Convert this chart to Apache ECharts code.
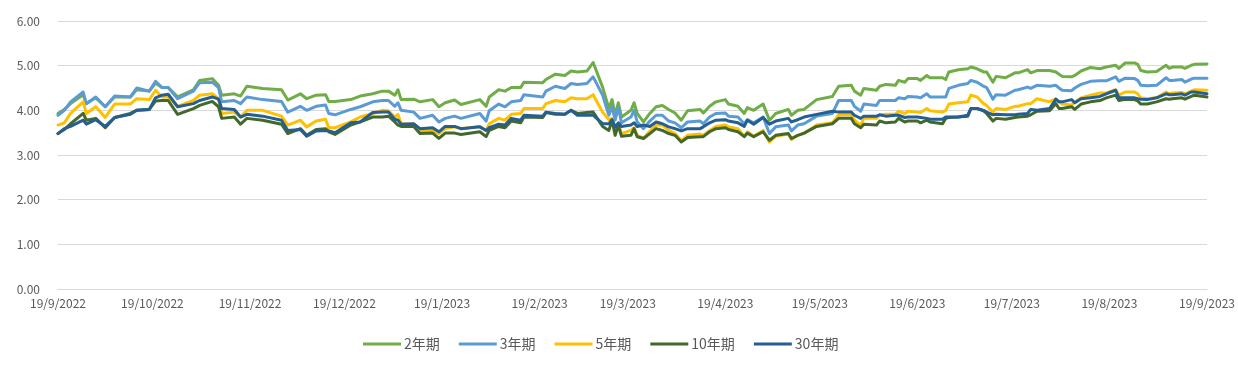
<!DOCTYPE html>
<html>
<head>
<meta charset="utf-8">
<script src="https://cdn.jsdelivr.net/npm/echarts@6/dist/echarts.min.js"></script>
<style>
html,body{margin:0;padding:0;background:#fff;}
#chart{width:1238px;height:369px;}
</style>
</head>
<body>
<div id="chart"></div>
<script>
// Days since 19/9/2022 at which values were read
const sampleDay = [
  0,2,4,8,9,12,15,18,23,25,29,31,33,35,38,43,45,49,51,52,56,58,60,65,71,73,77,79,82,85,86,88,93,96,100,103,105,107,108,
  109,113,115,119,121,123,126,128,134,136,137,140,142,144,147,148,154,155,158,161,163,165,168,170,173,175,176,177,178,179,182,183,184,186,188,190,192,194,196,198,200,204,205,207,209,212,213,216,218,219,221,224,226,228,232,233,235,237,
  241,246,248,252,253,255,256,260,261,263,266,267,269,270,273,274,276,277,281,282,283,286,289,290,292,294,295,297,298,301,304,305,308,309,311,315,317,318,319,322,323,325,328,331,333,336,337,339,342,343,344,346,349,352,353,354,357,358,360,361,365
];

const seriesNames = ['2年期', '3年期', '5年期', '10年期', '30年期'];

const y2 = [
  3.93,4.02,4.15,4.35,4.15,4.28,4.08,4.30,4.30,4.46,4.43,4.61,4.51,4.51,4.30,4.46,4.67,4.71,4.56,4.34,4.37,4.32,4.54,4.49,4.46,4.23,4.37,4.26,4.34,4.35,4.20,4.20,4.24,4.32,4.37,4.43,4.43,4.34,4.46,
  4.24,4.25,4.19,4.24,4.08,4.17,4.23,4.13,4.24,4.09,4.30,4.46,4.43,4.51,4.51,4.63,4.62,4.69,4.81,4.78,4.88,4.86,4.88,5.07,4.52,4.04,4.24,3.89,4.17,3.85,4.00,4.17,3.93,3.74,3.93,4.08,4.11,4.02,3.94,3.78,3.99,4.02,3.94,4.09,4.19,4.24,4.14,4.09,3.93,4.06,4.00,4.14,3.78,3.93,4.02,3.89,4.00,4.02,
  4.24,4.31,4.54,4.56,4.43,4.34,4.49,4.45,4.54,4.58,4.56,4.67,4.63,4.71,4.71,4.67,4.78,4.73,4.73,4.69,4.86,4.91,4.93,4.97,4.93,4.86,4.86,4.63,4.76,4.73,4.84,4.84,4.91,4.84,4.89,4.89,4.86,4.81,4.76,4.75,4.78,4.88,4.96,4.93,4.97,5.01,4.94,5.06,5.06,5.03,4.89,4.86,4.87,5.01,4.94,4.97,4.97,4.94,5.01,5.03,5.04
];
const y3 = [
  3.89,4.00,4.19,4.41,4.15,4.30,4.08,4.32,4.30,4.50,4.43,4.65,4.51,4.51,4.26,4.43,4.62,4.63,4.51,4.19,4.22,4.15,4.30,4.24,4.20,3.96,4.09,4.00,4.09,4.12,3.93,3.90,4.02,4.08,4.19,4.22,4.22,4.09,4.17,
  4.00,3.96,3.82,3.89,3.74,3.82,3.87,3.82,3.93,3.76,3.99,4.14,4.08,4.19,4.22,4.35,4.30,4.43,4.54,4.49,4.60,4.58,4.60,4.75,4.34,3.89,4.08,3.78,4.08,3.72,3.85,4.00,3.74,3.59,3.76,3.89,3.89,3.76,3.72,3.61,3.74,3.76,3.70,3.85,3.93,3.94,3.87,3.85,3.70,3.79,3.72,3.85,3.48,3.63,3.67,3.54,3.67,3.70,
  3.87,3.93,4.22,4.22,4.09,3.98,4.14,4.11,4.22,4.22,4.22,4.28,4.26,4.31,4.30,4.28,4.37,4.30,4.30,4.30,4.49,4.56,4.60,4.67,4.63,4.54,4.51,4.25,4.35,4.34,4.45,4.46,4.52,4.49,4.56,4.54,4.56,4.50,4.45,4.44,4.50,4.58,4.65,4.66,4.66,4.75,4.65,4.72,4.71,4.67,4.56,4.55,4.56,4.73,4.67,4.67,4.69,4.63,4.70,4.72,4.72
];
const y5 = [
  3.67,3.72,3.93,4.19,3.93,4.08,3.84,4.14,4.14,4.26,4.24,4.45,4.30,4.30,4.09,4.22,4.34,4.37,4.26,3.93,3.96,3.85,4.00,4.00,3.87,3.67,3.78,3.63,3.76,3.80,3.61,3.61,3.74,3.85,3.93,4.00,3.99,3.85,3.91,
  3.70,3.69,3.55,3.55,3.48,3.59,3.63,3.59,3.64,3.55,3.70,3.82,3.78,3.91,3.93,4.04,4.04,4.15,4.22,4.19,4.28,4.26,4.26,4.35,3.96,3.79,3.82,3.59,3.70,3.48,3.55,3.61,3.44,3.38,3.53,3.67,3.67,3.55,3.48,3.32,3.44,3.47,3.44,3.55,3.64,3.67,3.63,3.59,3.42,3.52,3.42,3.55,3.29,3.42,3.47,3.35,3.44,3.48,
  3.67,3.72,3.90,3.90,3.78,3.67,3.82,3.82,3.89,3.91,3.91,3.98,3.93,3.98,3.96,3.95,4.04,3.99,3.96,4.00,4.14,4.17,4.19,4.34,4.30,4.15,4.11,3.96,4.04,4.02,4.09,4.09,4.15,4.15,4.26,4.19,4.26,4.19,4.14,4.12,4.18,4.28,4.34,4.39,4.39,4.46,4.34,4.41,4.41,4.37,4.28,4.26,4.28,4.41,4.37,4.39,4.40,4.37,4.43,4.46,4.45
];
const y10 = [
  3.48,3.57,3.70,3.93,3.78,3.82,3.61,3.84,3.93,4.00,4.02,4.21,4.22,4.22,3.91,4.04,4.11,4.20,4.08,3.82,3.85,3.69,3.82,3.78,3.69,3.48,3.59,3.44,3.57,3.59,3.52,3.46,3.67,3.74,3.85,3.85,3.87,3.74,3.67,
  3.64,3.64,3.48,3.49,3.37,3.49,3.49,3.46,3.52,3.41,3.55,3.64,3.61,3.76,3.72,3.85,3.84,3.95,3.91,3.91,4.00,3.93,3.95,3.96,3.64,3.55,3.78,3.44,3.67,3.42,3.44,3.59,3.41,3.37,3.48,3.59,3.55,3.48,3.44,3.29,3.39,3.41,3.41,3.52,3.59,3.61,3.57,3.52,3.41,3.49,3.41,3.52,3.33,3.44,3.48,3.37,3.44,3.49,
  3.64,3.70,3.82,3.82,3.70,3.61,3.69,3.67,3.76,3.72,3.74,3.82,3.74,3.76,3.76,3.72,3.78,3.74,3.70,3.82,3.84,3.85,3.87,4.04,4.04,3.99,3.93,3.76,3.82,3.80,3.84,3.85,3.87,3.90,3.98,3.99,4.15,4.04,4.04,4.08,4.02,4.14,4.19,4.22,4.28,4.34,4.22,4.25,4.24,4.21,4.14,4.14,4.19,4.26,4.25,4.26,4.28,4.25,4.31,4.34,4.30
];
const y30 = [
  3.48,3.59,3.64,3.78,3.69,3.79,3.64,3.84,3.91,4.00,4.02,4.28,4.34,4.36,4.08,4.15,4.22,4.30,4.25,4.04,4.02,3.85,3.91,3.87,3.78,3.55,3.57,3.42,3.54,3.55,3.54,3.50,3.72,3.74,3.95,3.96,3.96,3.80,3.78,
  3.69,3.70,3.59,3.61,3.52,3.64,3.64,3.59,3.63,3.55,3.61,3.69,3.67,3.82,3.78,3.89,3.87,3.96,3.93,3.91,4.00,3.89,3.89,3.89,3.70,3.70,3.79,3.63,3.72,3.64,3.67,3.72,3.64,3.67,3.64,3.74,3.70,3.63,3.59,3.54,3.59,3.59,3.63,3.72,3.78,3.79,3.76,3.72,3.64,3.78,3.69,3.84,3.69,3.76,3.82,3.74,3.79,3.85,
  3.91,3.98,3.96,3.96,3.89,3.82,3.87,3.87,3.90,3.87,3.89,3.89,3.84,3.85,3.85,3.84,3.82,3.80,3.80,3.85,3.85,3.85,3.89,4.04,4.04,4.00,3.96,3.90,3.91,3.90,3.90,3.91,3.93,4.02,4.00,4.04,4.25,4.19,4.19,4.24,4.17,4.26,4.28,4.31,4.37,4.45,4.28,4.28,4.28,4.26,4.25,4.24,4.28,4.37,4.35,4.35,4.37,4.34,4.41,4.41,4.37
];

const yTicks = { min: 0, max: 6, interval: 1 };
const colors = ['#70AD47', '#5B9BD5', '#FFC000', '#43682B', '#255E91'];

// Calendar-day categories 19/9/2022 .. 19/9/2023
const categories = [];
for (let i = 0; i <= 365; i++) {
  const d = new Date(2022, 8, 19 + i);
  categories.push(d.getDate() + '/' + (d.getMonth() + 1) + '/' + d.getFullYear());
}

function toFull(vals) {
  const arr = new Array(categories.length).fill(null);
  sampleDay.forEach((day, k) => { arr[day] = vals[k]; });
  return arr;
}

const allVals = [y2, y3, y5, y10, y30];
const chart = echarts.init(document.getElementById('chart'), null, { renderer: 'canvas' });
chart.setOption({
  animation: false,
  color: colors,
  grid: { left: 58, right: 24, top: 21, bottom: 80, containLabel: false },
  xAxis: {
    type: 'category',
    data: categories,
    boundaryGap: false,
    axisLine: { show: true, lineStyle: { color: '#D9D9D9', width: 1 } },
    axisTick: { show: false },
    axisLabel: {
      interval: function (index, value) { return value.indexOf('19/') === 0; },
      color: '#595959',
      fontFamily: 'Noto Sans CJK SC',
      fontSize: 12,
      margin: 8,
      hideOverlap: false
    },
    splitLine: { show: false }
  },
  yAxis: {
    type: 'value',
    min: yTicks.min, max: yTicks.max, interval: yTicks.interval,
    axisLine: { show: false },
    axisTick: { show: false },
    axisLabel: {
      formatter: v => v.toFixed(2),
      color: '#595959',
      fontFamily: 'Noto Sans CJK SC',
      fontSize: 12,
      margin: 18
    },
    splitLine: { lineStyle: { color: '#D9D9D9', width: 1 } }
  },
  legend: {
    left: 358,
    top: 332,
    icon: 'rect',
    itemWidth: 38,
    itemHeight: 3,
    itemGap: 19,
    textStyle: { color: '#595959', fontFamily: 'Noto Sans CJK SC', fontSize: 14, padding: [0, 0, 0, -2] },
    data: seriesNames
  },
  series: seriesNames.map((name, i) => ({
    name: name,
    type: 'line',
    data: toFull(allVals[i]),
    connectNulls: true,
    showSymbol: false,
    symbol: 'none',
    lineStyle: { width: 3, color: colors[i], cap: 'round', join: 'round' },
    itemStyle: { color: colors[i] }
  }))
});
</script>
</body>
</html>
